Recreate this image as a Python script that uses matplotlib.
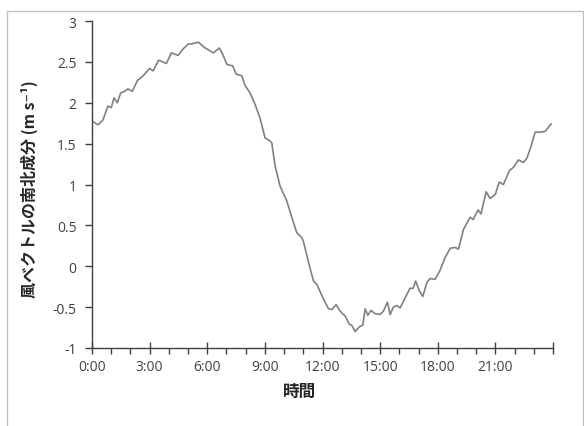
import matplotlib
matplotlib.use("Agg")
import matplotlib.pyplot as plt
from matplotlib.patches import Rectangle
from matplotlib.ticker import MultipleLocator, FuncFormatter

# Time (hours since 0:00) and north-south wind component (m/s)
hours = [0.05, 0.31, 0.57, 0.83, 1.0, 1.15, 1.32, 1.49, 1.70, 1.875, 2.1, 2.36, 2.66,
         3.0, 3.18, 3.47, 3.87, 4.13, 4.48, 4.75, 5.02, 5.19, 5.54, 5.89, 6.32, 6.63,
         6.81, 7.02, 7.33, 7.5, 7.8, 7.97, 8.23, 8.49, 8.75, 9.01, 9.23, 9.36, 9.53,
         9.79, 10.14, 10.4, 10.66, 10.92, 11.0, 11.27, 11.53, 11.7, 12.05, 12.31, 12.48,
         12.71, 12.92, 13.18, 13.4, 13.52, 13.7, 13.92, 14.1, 14.22, 14.36, 14.52, 14.74,
         15.0, 15.17, 15.38, 15.52, 15.69, 15.87, 16.04, 16.3, 16.55, 16.72, 16.85,
         17.02, 17.22, 17.43, 17.6, 17.86, 18.1, 18.39, 18.65, 18.9, 19.08, 19.34,
         19.69, 19.84, 20.1, 20.25, 20.52, 20.73, 21.0, 21.2, 21.42, 21.73, 21.94,
         22.2, 22.46, 22.64, 22.86, 23.07, 23.33, 23.59, 23.9]
v_wind = [1.77, 1.73, 1.79, 1.96, 1.94, 2.06, 2.00, 2.12, 2.14, 2.17, 2.14, 2.27, 2.33,
          2.42, 2.39, 2.52, 2.48, 2.61, 2.58, 2.66, 2.72, 2.72, 2.74, 2.67, 2.61, 2.67,
          2.59, 2.47, 2.45, 2.35, 2.33, 2.21, 2.12, 1.98, 1.81, 1.57, 1.54, 1.51, 1.23,
          0.98, 0.80, 0.60, 0.41, 0.35, 0.31, 0.05, -0.18, -0.22, -0.40, -0.52, -0.53,
          -0.47, -0.55, -0.61, -0.71, -0.72, -0.80, -0.74, -0.72, -0.52, -0.60, -0.54, -0.58,
          -0.59, -0.55, -0.44, -0.59, -0.50, -0.48, -0.51, -0.39, -0.27, -0.27, -0.18,
          -0.29, -0.37, -0.20, -0.15, -0.16, -0.06, 0.11, 0.22, 0.23, 0.21, 0.45,
          0.60, 0.57, 0.69, 0.64, 0.91, 0.83, 0.88, 1.03, 1.00, 1.17, 1.21,
          1.30, 1.27, 1.32, 1.47, 1.64, 1.64, 1.65, 1.74]

cjk = ['Noto Sans CJK JP', 'DejaVu Sans']
tick_font = 'Open Sans'

fig = plt.figure(figsize=(5.84, 4.27), dpi=100)
# light chart-area border like the spreadsheet frame
fig.patches.append(Rectangle((7 / 584, -0.1), 576 / 584, 1.1 - 12 / 427,
                             transform=fig.transFigure, fill=False,
                             edgecolor='#bfbfbf', linewidth=1))

ax = fig.add_axes([92 / 584, 1 - 349 / 427, (553 - 92) / 584, (349 - 22) / 427])
ax.plot(hours, v_wind, color='#808080', linewidth=1.2)

ax.set_xlim(0, 24)
ax.set_ylim(-1, 3)
ax.xaxis.set_major_locator(MultipleLocator(3))
ax.xaxis.set_minor_locator(MultipleLocator(1))
ax.yaxis.set_major_locator(MultipleLocator(0.5))
ax.xaxis.set_major_formatter(FuncFormatter(lambda x, p: '%d:00' % x if x < 24 else ''))
ax.yaxis.set_major_formatter(FuncFormatter(lambda y, p: ('%g' % y)))

for s in ['top', 'right']:
    ax.spines[s].set_visible(False)
for s in ['left', 'bottom']:
    ax.spines[s].set_color('#404040')
    ax.spines[s].set_linewidth(1)

ax.tick_params(axis='x', which='major', direction='inout', length=8, width=1,
               color='#404040', labelsize=10, labelcolor='#404040', pad=4)
ax.tick_params(axis='x', which='minor', direction='out', length=4, width=1, color='#404040')
ax.tick_params(axis='y', which='major', direction='out', length=5, width=1,
               color='#404040', labelsize=10, labelcolor='#404040', pad=6)
for lab in ax.get_xticklabels() + ax.get_yticklabels():
    lab.set_family(tick_font)

ax.set_xlabel('時間', family=cjk, fontweight='bold', fontsize=12, color='#262626')
ax.xaxis.set_label_coords((300 - 92) / (553 - 92), -34 / 327)
ax.set_ylabel('風ベクトルの南北成分 (m s⁻¹)', family=cjk, fontweight='bold',
              fontsize=11.5, color='#262626')
ax.yaxis.set_label_coords(-(92 - 38) / 461, 0.49)

fig.savefig('out.png', dpi=100)
